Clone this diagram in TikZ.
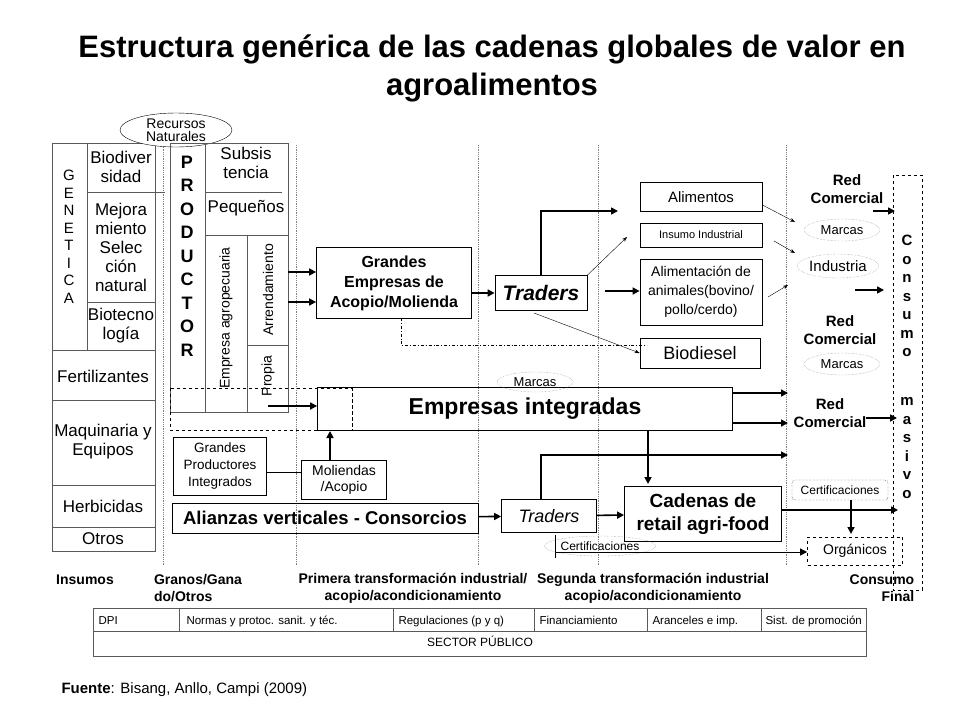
\documentclass[tikz,border=0pt]{standalone}
\usepackage{fontspec}
\setmainfont{Liberation Sans}
\usetikzlibrary{positioning, arrows.meta, shapes.geometric}
\newcommand{\fsz}[2]{\fontsize{#1}{#2}\selectfont}
\tikzset{
  box/.style={draw=black, thick, align=center, inner sep=1pt},
  grid/.style={draw=gray!70!black, thick},
  sep/.style={gray, densely dotted, thick},
  fat/.style={-{Triangle[length=7pt,width=7pt]}, line width=1.6pt},
  slim/.style={-{Stealth[length=5pt]}, thin},
  tag/.style={draw=gray, densely dotted, ellipse, inner sep=0pt, font=\fsz{13}{14}},
}
\begin{document}
\begin{tikzpicture}[x=1pt, y=-1pt, font=\fsz{17}{19}]
    \useasboundingbox (0,0) rectangle (960,720);
    % Define nodes
    \node[align=center, font=\fsz{31}{38}\bfseries] (title) at (492,68) {Estructura genérica de las cadenas globales de valor en\\agroalimentos};
    % separators
    \foreach \sx in {163,296,478,598,786}
        \draw[sep] (\sx,145) -- (\sx,565);
    % left column
    \draw[grid] (52,143) rectangle (155,551);
    \draw[grid] (87,143) -- (87,350) (87,192) -- (165,192) (87,302) -- (155,302)
        (52,350) -- (155,350) (52,400) -- (155,400) (52,485) -- (155,485) (52,527) -- (155,527);
    \node[align=center, font=\fsz{15}{17.5}] (gen) at (69,237) {G\\E\\N\\E\\T\\I\\C\\A};
    \node[align=center] (biod) at (121,167) {Biodiver\\sidad};
    \node[align=center] (mejo) at (121,247) {Mejora\\miento\\Selec\\ción\\natural};
    \node[align=center] (biot) at (121,326) {Biotecno\\logía};
    \node (fert) at (103,376) {Fertilizantes};
    \node[align=center] (maqu) at (103,442) {Maquinaria y\\Equipos};
    \node (herb) at (103,506) {Herbicidas};
    \node (otro) at (103,539) {Otros};
    \node[draw, ellipse, minimum width=112, minimum height=34, align=center, inner sep=0pt,
          font=\fsz{14}{13}, fill=white] (recu) at (176,130) {Recursos\\Naturales};
    % productor
    \draw[grid] (170,143) rectangle (288,412);
    \draw[grid] (205,143) -- (205,412) (205,192) -- (282,192) (205,235) -- (288,235)
        (247,235) -- (247,412) (247,345) -- (288,345);
    \node[align=center, font=\fsz{18}{23.5}\bfseries] (prod) at (187,256) {P\\R\\O\\D\\U\\C\\T\\O\\R};
    \node[align=center] (subs) at (246,163) {Subsis\\tencia};
    \node (pequ) at (246,208) {Pequeños};
    \node[rotate=90, font=\fsz{14}{16}] (empa) at (226,318) {Empresa agropecuaria};
    \node[rotate=90, font=\fsz{14}{16}] (arre) at (268,290) {Arrendamiento};
    \node[rotate=90, font=\fsz{14}{16}] (prop) at (268,376) {Propia};
    \draw[dashed, thick] (170,388) rectangle (352,430);
    % chain nodes
    \node[box, minimum width=155, minimum height=71, font=\fsz{16}{20}\bfseries] (gran) at (394,283) {Grandes\\Empresas de\\Acopio/Molienda};
    \node[box, minimum width=92, minimum height=35, font=\fsz{21}{21}\bfseries\itshape] (trad) at (541,293) {Traders};
    \node[box, minimum width=122, minimum height=29, font=\fsz{15}{17}] (alim) at (701,197) {Alimentos};
    \node[box, minimum width=122, minimum height=24, font=\fsz{11}{12}] (insu) at (701,235) {Insumo Industrial};
    \node[box, minimum width=122, minimum height=66, font=\fsz{14}{19}] (anim) at (701,292) {Alimentación de\\animales(bovino/\\pollo/cerdo)};
    \node[box, minimum width=120, minimum height=30, font=\fsz{18}{18}] (bio) at (700,353) {Biodiesel};
    \node[box, minimum width=415, minimum height=43, font=\fsz{23}{23}\bfseries] (emin) at (525,409) {Empresas integradas};
    \draw[thick, dashed] (352,388) -- (352,430);
    \node[box, minimum width=93, minimum height=58, font=\fsz{13.5}{17}] (gpi) at (220,466) {Grandes\\Productores\\Integrados};
    \node[box, minimum width=85, minimum height=39, font=\fsz{14}{16}] (moli) at (344,480) {Moliendas\\/Acopio};
    \node[box, minimum width=306, minimum height=30, font=\fsz{18.5}{18}\bfseries] (alia) at (325,518) {Alianzas verticales - Consorcios};
    \node[box, minimum width=95, minimum height=33, font=\fsz{18}{18}\itshape] (trad2) at (549,516) {Traders};
    \node[box, minimum width=157, minimum height=55, font=\fsz{19}{23}\bfseries] (cade) at (703,514) {Cadenas de\\retail agri-food};
    % right side
    \node[align=center, font=\fsz{15}{18}\bfseries] (red1) at (847,189) {Red\\Comercial};
    \node[tag, minimum width=76, minimum height=22] (mar1) at (842,230) {Marcas};
    \node[tag, minimum width=76, minimum height=24, font=\fsz{15}{16}] (indu) at (838,266) {Industria};
    \node[align=center, font=\fsz{15}{18}\bfseries] (red2) at (840,330) {Red\\Comercial};
    \node[tag, minimum width=76, minimum height=22] (mar2) at (842,364) {Marcas};
    \node[tag, minimum width=76, minimum height=20] (mar3) at (535,382) {Marcas};
    \node[align=center, font=\fsz{15}{18}\bfseries] (red3) at (830,413) {Red\\Comercial};
    \node[draw, densely dotted, rounded corners=3pt, minimum width=96, minimum height=20, inner sep=1pt, font=\fsz{12}{13}] (cert1) at (840,490) {Certificaciones};
    \node[tag, minimum width=100, minimum height=20, font=\fsz{12}{13}] (cert2) at (600,546) {Certificaciones};
    \node[draw, dashed, thick, minimum width=95, minimum height=28, font=\fsz{14}{15}] (orga) at (855,551) {Orgánicos};
    \draw[dashed, thick] (893,175) rectangle (922,590);
    \node[align=center, font=\fsz{15}{18.5}\bfseries] (cons) at (907,296) {C\\o\\n\\s\\u\\m\\o};
    \node[align=center, font=\fsz{15}{18.5}\bfseries] (masi) at (907,448) {m\\a\\s\\i\\v\\o};
    \coordinate (endA) at (895,211);
    \coordinate (endB) at (884,290);
    \coordinate (endC) at (897,418);
    % Draw edges
    \draw[fat] (288,272) -- (gran.west |- 0,272);
    \draw[fat] (288,302) -- (gran.west |- 0,302);
    \draw[fat] (gran.east |- trad) -- (trad);
    \draw[fat] (trad.north) |- (618,211);
    \draw[slim] (trad.north east) -- (627,237);
    \draw[fat] (605,291) -- (anim.west |- 0,291);
    \draw[slim] (534,313) -- (bio.west);
    \draw[thick, dash dot] (401,318) |- (647,345);
    \draw[slim] (alim.east) ++(0,8) -- (795,222);
    \draw[slim] (774,241) -- (795,253);
    \draw[slim] (768,297) -- (788,285);
    \draw[fat] (873,211) -- (endA);
    \draw[fat] (855,290) -- (endB);
    \draw[fat] (866,418) -- (endC);
    \draw[fat] (268,406) -- (emin.west |- 0,406);
    \draw[thick] (gpi.east |- 0,472) -- (moli.west |- 0,472);
    \draw[fat] (330,461) -- (330,431);
    \draw[fat] (emin.east |- 0,393) -- (788,393);
    \draw[fat] (emin.east |- 0,423) -- (788,423);
    \draw[fat] (648,431) -- (648,484);
    \draw[fat] (alia) -- (trad2);
    \draw[fat] (trad2) -- (cade);
    \draw[fat] (trad2.north) ++(-8,0) |- (788,455);
    \draw[fat] (cade.east |- 0,510) -- (898,510);
    \draw[fat] (851,500) -- (851,534);
    \draw[-{Triangle[length=7pt,width=7pt]}, thick] (555,535) -- (555,558) (555,552) -- (orga.west |- 0,552);
    % bottom labels
    \begin{scope}[font=\fsz{14}{17}\bfseries]
      \node (ins) at (85,580) {Insumos};
      \node[align=left] (gra) at (198,588) {Granos/Gana\\do/Otros};
      \node[align=center] (pri) at (413,588) {Primera transformación industrial/\\acopio/acondicionamiento};
      \node[align=center] (seg) at (653,588) {Segunda transformación industrial\\acopio/acondicionamiento};
      \node[align=right] (fin) at (882,588) {Consumo\\Final};
    \end{scope}
    % public sector table
    \draw[grid] (93,608) rectangle (866,656);
    \draw[grid] (93,631) -- (866,631);
    \foreach \cx in {179,393,534,647,761}
        \draw[grid] (\cx,608) -- (\cx,631);
    \begin{scope}[font=\fsz{11.5}{13}, anchor=base west]
      \node (dpi) at (95,624) {DPI};
      \node (norm) at (183,624) {Normas y protoc. sanit. y téc.};
      \node (regu) at (395,624) {Regulaciones (p y q)};
      \node (fina) at (536,624) {Financiamiento};
      \node (aran) at (649,624) {Aranceles e imp.};
      \node (sist) at (762,624) {Sist. de promoción};
    \end{scope}
    \node[font=\fsz{12}{13}] (sect) at (480,641) {SECTOR PÚBLICO};
    \node[anchor=west, font=\fsz{15}{17}] (fuen) at (58,690) {\textbf{Fuente}: Bisang, Anllo, Campi (2009)};
\end{tikzpicture}
\end{document}
